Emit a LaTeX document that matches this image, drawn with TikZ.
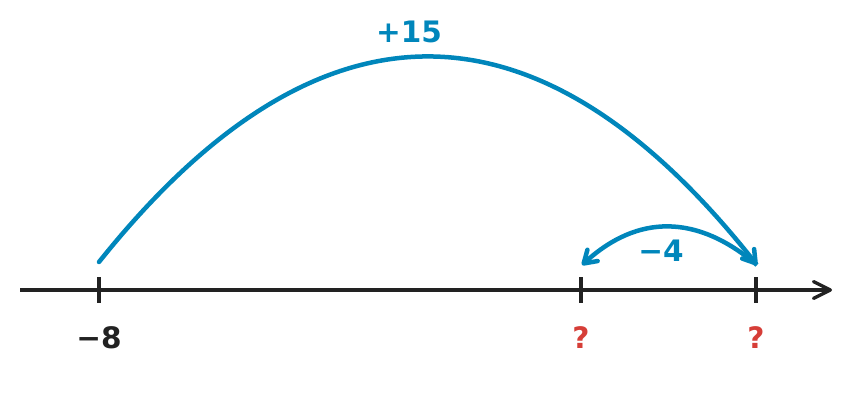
\documentclass[tikz,border=0pt]{standalone}
\usepackage{fontspec}
\setmainfont{DejaVu Sans}
\usepackage{xcolor}
\usetikzlibrary{arrows.meta,positioning}
\definecolor{jumpblue}{RGB}{0,134,187}
\definecolor{askred}{RGB}{214,62,56}
\definecolor{axisblack}{RGB}{34,34,34}
\tikzset{
  axisline/.style={axisblack,line width=2.4pt},
  jumpline/.style={jumpblue,line width=3.2pt,-{Straight Barb[round,length=0.3cm,width=0.38cm]}}
}
\begin{document}
\begin{tikzpicture}[x=0.025cm,y=-0.025cm,font=\bfseries\fontsize{21}{25}\selectfont]
\useasboundingbox (0,0) rectangle (864,416);
\coordinate (O) at (20,290);
\coordinate (E) at (832,290);
\coordinate (A) at (99,290);
\coordinate (B) at (581,290);
\coordinate (C) at (756,290);
\coordinate (P) at (99,262);
\coordinate (Q) at (757,265);
\coordinate (R) at (582,265);
\node[axisblack] (LA) at (99,338) {−8};
\node[askred] (LB) at (581,338) {?};
\node[askred] (LC) at (756,338) {?};
\node[jumpblue] (J1) at (409,32) {+15};
\node[jumpblue] (J2) at (661,251) {−4};
\draw[axisline,-{Straight Barb[round,length=0.42cm,width=0.42cm]}] (O) -- (E);
\foreach \t in {A,B,C}
  \draw[axisline] (\t) ++(0,-13) -- ++(0,26);
\draw[jumpline,line cap=round] (P) .. controls (318,-12) and (538,-12) .. (Q);
\draw[jumpline] (Q) .. controls (697,214) and (638,214) .. (R);
\end{tikzpicture}
\end{document}
